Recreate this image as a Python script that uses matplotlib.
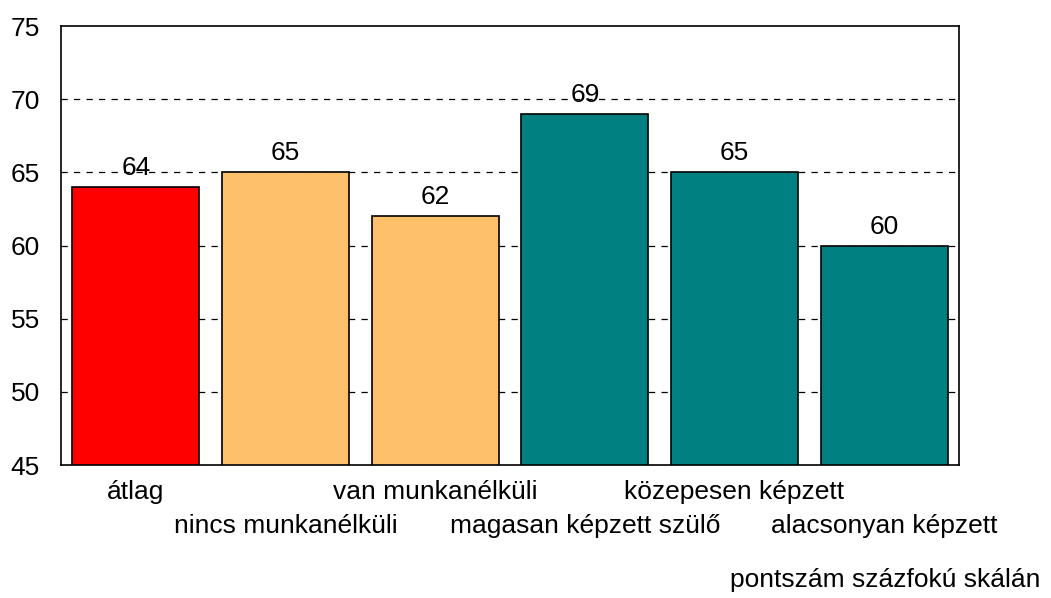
import matplotlib.pyplot as plt

# --- datos ---
categorias = ["átlag", "nincs munkanélküli", "van munkanélküli",
              "magasan képzett szülő", "közepesen képzett", "alacsonyan képzett"]
valores = [64, 65, 62, 69, 65, 60]
colores = ["#ff0000", "#ffc06c", "#ffc06c", "#008080", "#008080", "#008080"]
yticks = [45, 50, 55, 60, 65, 70, 75]
nota = "pontszám százfokú skálán"

plt.rcParams["font.family"] = ["Liberation Sans", "DejaVu Sans"]
FS = 19

fig = plt.figure(figsize=(10.51, 5.98), dpi=100)
ax = fig.add_axes([0.058, 0.2224, 0.8545, 0.7341])

x = range(len(valores))
ax.bar(x, [v - 45 for v in valores], bottom=45, width=0.85, color=colores,
       edgecolor="black", linewidth=1.2, zorder=3)

for i, v in enumerate(valores):
    ax.annotate(str(v), (i, v), xytext=(0, 5), textcoords="offset points",
                ha="center", va="bottom", fontsize=FS, zorder=4)

ax.set_xlim(-0.5, len(valores) - 0.5)
ax.set_ylim(45, 75)
ax.set_yticks(yticks)
ax.tick_params(axis="y", length=0, labelsize=FS, pad=15)
ax.set_xticks([])
for y in yticks[1:-1]:
    ax.axhline(y, color="black", linestyle=(0, (5, 5)), linewidth=0.9, zorder=1)
for s in ax.spines.values():
    s.set_linewidth(1.2)

# etiquetas en dos filas alternadas
for i, c in enumerate(categorias):
    yoff = -0.062 if i % 2 == 0 else -0.14
    ax.text(i, yoff, c, transform=ax.get_xaxis_transform(), ha="center",
            va="center", fontsize=FS)

fig.text(0.99, 0.03, nota, ha="right", va="center", fontsize=FS)

fig.savefig("out.png", dpi=100)
